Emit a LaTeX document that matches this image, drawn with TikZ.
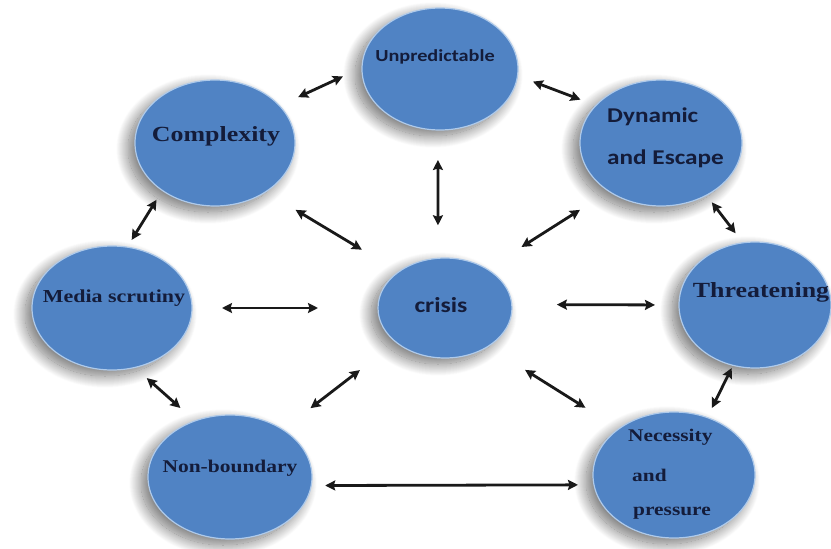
\documentclass[tikz,border=0pt]{standalone}
\usepackage{fontspec}
\newfontfamily\serifbold{Liberation Serif}
\newfontfamily\sansbold{Carlito}
\usetikzlibrary{shapes.geometric,shadows.blur,arrows.meta}
\definecolor{bubfill}{RGB}{80,131,196}
\definecolor{bubrim}{RGB}{175,202,234}
\definecolor{txtnavy}{RGB}{20,28,58}
\definecolor{arrcol}{RGB}{25,25,25}
\tikzset{
  bub/.style={ellipse, inner sep=0pt, outer sep=0pt, fill=bubfill, draw=bubrim, line width=1.2pt,
    blur shadow={shadow xshift=-7pt, shadow yshift=-6pt, shadow blur radius=12pt, shadow blur steps=25, shadow opacity=55}},
  sertxt/.style={text=txtnavy, inner sep=0pt, xscale=1.2, font=\serifbold\bfseries},
  sanstxt/.style={text=txtnavy, inner sep=0pt, xscale=1.2, font=\sansbold\bfseries},
  link/.style={draw=arrcol, line width=2.8pt, {Stealth[length=10pt,width=10pt,inset=1.5pt]}-{Stealth[length=10pt,width=10pt,inset=1.5pt]}}
}
\begin{document}
\begin{tikzpicture}[x=1pt,y=-1pt]
\useasboundingbox (0,0) rectangle (831,549);
% bubbles
\node[bub, minimum width=156pt, minimum height=122pt] (U) at (440,69) {};
\node[bub, minimum width=160pt, minimum height=126pt] (C) at (215,143) {};
\node[bub, minimum width=162pt, minimum height=126pt] (D) at (661,143) {};
\node[bub, minimum width=160pt, minimum height=124pt] (M) at (112,308) {};
\node[bub, minimum width=152pt, minimum height=126pt] (T) at (755,305) {};
\node[bub, minimum width=134pt, minimum height=100pt] (X) at (445,308) {};
\node[bub, minimum width=164pt, minimum height=124pt] (N) at (230,477) {};
\node[bub, minimum width=162pt, minimum height=126pt] (P) at (674,475) {};
% texts
\node[sanstxt, font=\sansbold\bfseries\fontsize{16.9}{20}\selectfont] (tU) at (435,57) {Unpredictable};
\node[sertxt, font=\serifbold\bfseries\fontsize{21.6}{26}\selectfont] (tC) at (216,136) {Complexity};
\node[sanstxt, anchor=west, font=\sansbold\bfseries\fontsize{21}{25}\selectfont] (tD1) at (607,117) {Dynamic};
\node[sanstxt, anchor=west, font=\sansbold\bfseries\fontsize{21}{25}\selectfont] (tD2) at (607,159) {and Escape};
\node[sertxt, font=\serifbold\bfseries\fontsize{18.3}{22}\selectfont] (tM) at (114,298) {Media scrutiny};
\node[sertxt, font=\serifbold\bfseries\fontsize{21.6}{26}\selectfont] (tT) at (761,292) {Threatening};
\node[sanstxt, font=\sansbold\bfseries\fontsize{21.4}{26}\selectfont] (tX) at (441,305) {crisis};
\node[sertxt, font=\serifbold\bfseries\fontsize{17.9}{22}\selectfont] (tN) at (230,468) {Non-boundary};
\node[sertxt, anchor=west, font=\serifbold\bfseries\fontsize{17.8}{22}\selectfont] (tP1) at (628,437) {Necessity};
\node[sertxt, anchor=west, font=\serifbold\bfseries\fontsize{17.8}{22}\selectfont] (tP2) at (632,475) {and};
\node[sertxt, anchor=west, font=\serifbold\bfseries\fontsize{17.8}{22}\selectfont] (tP3) at (633,513) {pressure};
% connectors
\draw[link, shorten <=20.5pt, shorten >=21pt] (C.30) -- (U.179);
\draw[link, shorten <=16.5pt, shorten >=16.5pt] (U.355) -- (D.150);
\draw[link, shorten <=30pt, shorten >=33pt] (U.268) -- (X.98);
\draw[link, shorten <=35pt, shorten >=43pt] (C.316) -- (X.142);
\draw[link, shorten <=34.5pt, shorten >=41pt] (D.223) -- (X.43);
\draw[link, shorten <=11pt, shorten >=8.5pt] (C.222) -- (M.76);
\draw[link, shorten <=9pt, shorten >=12pt] (D.311) -- (T.101);
\draw[link, shorten <=30pt, shorten >=60pt] (M.0) -- (X.180);
\draw[link, shorten <=45pt, shorten >=24pt] (X.3) -- (T.180);
\draw[link, shorten <=16pt, shorten >=19.5pt] (M.291) -- (N.122);
\draw[link, shorten <=45.7pt, shorten >=35pt] (X.215) -- (N.42);
\draw[link, shorten <=44pt, shorten >=39.5pt] (X.318) -- (P.140);
\draw[link, shorten <=3pt, shorten >=10.7pt] (T.250) -- (P.60);
\draw[link, shorten <=14pt, shorten >=16pt] (N.354) -- (P.187);
\end{tikzpicture}
\end{document}
